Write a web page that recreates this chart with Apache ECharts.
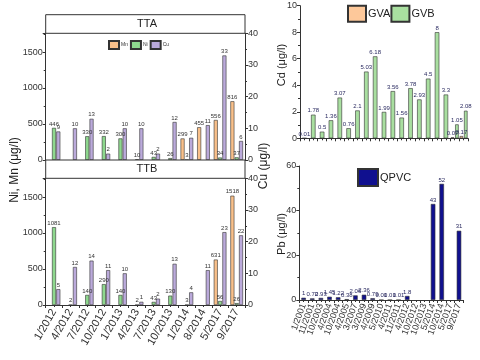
<!DOCTYPE html>
<html><head><meta charset="utf-8">
<script src="https://cdn.jsdelivr.net/npm/echarts@6/dist/echarts.min.js"></script>
<style>html,body{margin:0;padding:0;background:#fff}#c{width:480px;height:360px}</style>
</head><body><div id="c"></div>
<script>
const ttCategories = ['1/2012','4/2012','7/2012','10/2012','1/2013','4/2013','7/2013','10/2013','1/2014','8/2014','5/2017','9/2017'];
const ttaMn = [null,null,null,null,null,null,null,null,299,455,556,816];
const ttaNi = [446,null,330,332,300,10,43,26,3,null,34,37];
const ttaCu = [9,10,13,2,10,10,2,12,7,11,33,6];
const ttbMn = [null,null,null,null,null,null,null,null,null,null,631,1518];
const ttbNi = [1081,2,140,290,140,2,43,130,3,null,56,26];
const ttbCu = [5,12,14,11,10,1,2,13,4,11,23,22];

const gwCategories = ['1/2001','11/2001','10/2003','4/2004','10/2004','4/2005','3/2007','3/2009','4/2009','5/2010','4/2011','11/2011','4/2012','10/2012','10/2013','5/2014','10/2014','5/2017','9/2017'];
const cdGVB = [0.01,1.78,0.5,1.36,3.07,0.76,2.1,5.03,6.18,1.99,3.56,1.56,3.78,2.93,4.5,8,3.3,null,null];
const cdGVALate = [null,null,null,null,null,null,null,null,null,null,null,null,null,null,null,null,null,0.07,0.17];
const cdGVBLate = [null,null,null,null,null,null,null,null,null,null,null,null,null,null,null,null,null,1.05,2.08];
const pbQPVC = [1,0.72,0.93,1.45,1.22,0.38,2.06,2.36,0.79,0.01,0.01,0.01,1.8,null,null,43,52,null,31];

const FONT = '"Liberation Sans Narrow","Liberation Sans",Arial,sans-serif';
const C = {Mn:'#F9C08A', Ni:'#8ED88E', Cu:'#BBAADB', GVA:'#FDC89A', GVB:'#A9DFA0', QPVC:'#10108F'};
const ax = '#333';

function lbl(color, size){
  return {show:true, position:'top', distance:1, fontSize:size, color:color, fontFamily:FONT,
    formatter:function(p){ return String(p.value); }};
}
function bar(name, xi, yi, data, color, w, gap, lc, ls){
  return {name:name, type:'bar', xAxisIndex:xi, yAxisIndex:yi, data:data, barWidth:w, barGap:gap,
    itemStyle:{color:color, borderColor:'#333', borderWidth:0.6}, label:lbl(lc, ls), animation:false};
}
function yAx(grid, max, interval, pos){
  return {type:'value', gridIndex:grid, min:0, max:max, interval:interval, position:pos,
    axisLine:{show:true, lineStyle:{color:ax}}, axisTick:{show:true, length:3, lineStyle:{color:ax}},
    minorTick:{show:true, splitNumber:2, length:2, lineStyle:{color:ax}},
    axisLabel:{show:true, fontSize:9, color:'#333', fontFamily:FONT, margin:3, showMaxLabel:(max % interval === 0),
      formatter:function(v){ var n = Number(v); return (Math.abs(n % interval) < 1e-9) ? String(n) : ''; }},
    splitLine:{show:false}};
}
function xCat(grid, data, opts){
  return Object.assign({type:'category', gridIndex:grid, data:data,
    axisLine:{show:true, onZero:false, lineStyle:{color:ax}},
    axisTick:{show:true, length:3, interval:0, lineStyle:{color:ax}},
    axisLabel:{show:false}, splitLine:{show:false}}, opts||{});
}
function centerTicks(grid, data){
  return {type:'category', gridIndex:grid, data:data, position:'bottom',
    axisLine:{show:false}, axisTick:{show:true, length:2, interval:0, alignWithLabel:true, lineStyle:{color:ax}},
    axisLabel:{show:false}, splitLine:{show:false}};
}
function legendItems(names){
  return names.map(function(n){ return {name:n, icon:'rect'}; });
}

const option = {
  animation:false,
  textStyle:{fontFamily:FONT},
  grid:[
    {left:45.7, top:33.3, width:199.3, height:126.7},
    {left:45.7, top:178.3, width:199.3, height:126.7},
    {left:300, top:5.7, width:168, height:132.6},
    {left:299.3, top:166, width:164, height:134}
  ],
  xAxis:[
    xCat(0, ttCategories, {axisTick:{show:false}}),
    xCat(1, ttCategories, {axisLabel:{show:true, rotate:60, fontSize:11, color:'#333', fontFamily:FONT, interval:0, margin:5}}),
    centerTicks(1, ttCategories),
    xCat(2, gwCategories),
    centerTicks(2, gwCategories),
    xCat(3, gwCategories, {axisLabel:{show:true, rotate:70, fontSize:9, color:'#333', fontFamily:FONT, interval:0, margin:4}}),
    centerTicks(3, gwCategories)
  ],
  yAxis:[
    yAx(0, 1760, 500, 'left'),
    yAx(0, 40, 10, 'right'),
    yAx(1, 1760, 500, 'left'),
    yAx(1, 40, 10, 'right'),
    yAx(2, 10, 2, 'left'),
    yAx(3, 60, 20, 'left')
  ],
  legend:[
    {data:legendItems(['Mn','Ni','Cu']), icon:'rect', left:108, top:40, itemWidth:10, itemHeight:8, itemGap:2, padding:0,
      textStyle:{fontSize:5, color:'#333', fontFamily:FONT, padding:[0,0,0,-3]}},
    {data:legendItems(['GVA','GVB']), icon:'rect', left:347, top:4.7, itemWidth:18, itemHeight:16, itemGap:0, padding:0,
      textStyle:{fontSize:11, color:'#222', fontFamily:FONT, padding:[0,0,0,-3]}},
    {data:legendItems(['QPVC']), icon:'rect', left:357, top:168, itemWidth:20, itemHeight:17, padding:0,
      textStyle:{fontSize:11, color:'#222', fontFamily:FONT, padding:[0,0,0,-3]}}
  ],
  series:[
    bar('Mn', 0, 0, ttaMn, C.Mn, 4, '8%', '#333', 6),
    bar('Ni', 0, 0, ttaNi, C.Ni, 4, '8%', '#333', 6),
    bar('Cu', 0, 1, ttaCu, C.Cu, 4, '8%', '#333', 6),
    bar('Mn', 1, 2, ttbMn, C.Mn, 4, '8%', '#333', 6),
    bar('Ni', 1, 2, ttbNi, C.Ni, 4, '8%', '#333', 6),
    bar('Cu', 1, 3, ttbCu, C.Cu, 4, '8%', '#333', 6),
    bar('GVB', 3, 4, cdGVB, C.GVB, 4.5, '0%', '#2a2a60', 6),
    bar('GVA', 4, 4, cdGVALate, C.GVA, 3.5, '25%', '#2a2a60', 6),
    bar('GVB', 4, 4, cdGVBLate, C.GVB, 3.5, '25%', '#2a2a60', 6),
    bar('QPVC', 5, 5, pbQPVC, C.QPVC, 4.5, '0%', '#2a2a60', 6)
  ],
  graphic:[
    {type:'rect', shape:{x:45.7, y:14.7, width:199.3, height:18.6}, style:{fill:'#fff', stroke:'#333', lineWidth:1}, z:10},
    {type:'text', x:147, y:24, z:11, style:{text:'TTA', font:'11px '+FONT, fill:'#222', textAlign:'center', textVerticalAlign:'middle'}},
    {type:'rect', shape:{x:45.7, y:160, width:199.3, height:18.3}, style:{fill:'#fff', stroke:'#333', lineWidth:1}, z:10},
    {type:'text', x:147, y:169, z:11, style:{text:'TTB', font:'11px '+FONT, fill:'#222', textAlign:'center', textVerticalAlign:'middle'}},
    {type:'text', x:15, y:170, rotation:Math.PI/2, style:{text:'Ni, Mn (μg/l)', font:'12px '+FONT, fill:'#222', textAlign:'center', textVerticalAlign:'middle'}},
    {type:'text', x:264, y:166, rotation:Math.PI/2, style:{text:'Cu (μg/l)', font:'12px '+FONT, fill:'#222', textAlign:'center', textVerticalAlign:'middle'}},
    {type:'text', x:282, y:65, rotation:Math.PI/2, style:{text:'Cd (μg/l)', font:'11px '+FONT, fill:'#222', textAlign:'center', textVerticalAlign:'middle'}},
    {type:'text', x:282, y:234, rotation:Math.PI/2, style:{text:'Pb (μg/l)', font:'11px '+FONT, fill:'#222', textAlign:'center', textVerticalAlign:'middle'}}
  ]
};
const chart = echarts.init(document.getElementById('c'), null, {renderer:'canvas'});
chart.setOption(option);
</script></body></html>
